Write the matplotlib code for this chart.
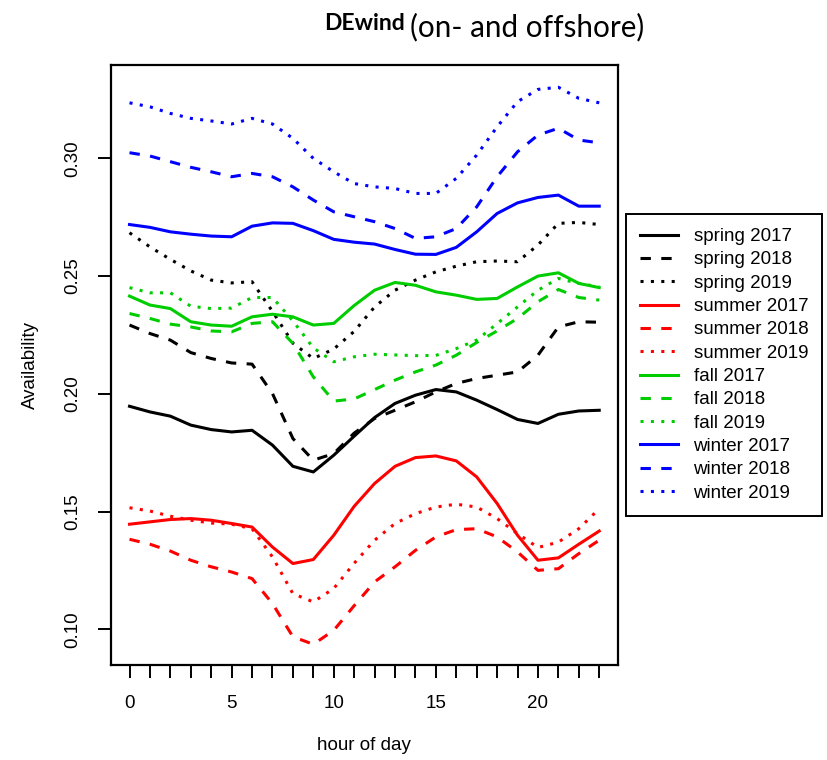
import numpy as np
import matplotlib
matplotlib.use("Agg")
import matplotlib.pyplot as plt

# hourly availability by season and year
hours = list(range(24))

spring_2017 = [0.1947, 0.1923, 0.1905, 0.1867, 0.1848, 0.1838, 0.1845, 0.1782, 0.1692, 0.1668, 0.1739, 0.1820,
               0.1899, 0.1959, 0.1994, 0.2018, 0.2008, 0.1973, 0.1933, 0.1891, 0.1874, 0.1913, 0.1927, 0.1930]
spring_2018 = [0.2292, 0.2256, 0.2228, 0.2175, 0.2150, 0.2131, 0.2126, 0.2001, 0.1810, 0.1718, 0.1746, 0.1833,
               0.1895, 0.1930, 0.1966, 0.2008, 0.2044, 0.2065, 0.2079, 0.2093, 0.2164, 0.2284, 0.2306, 0.2304]
spring_2019 = [0.2684, 0.2624, 0.2571, 0.2522, 0.2483, 0.2471, 0.2476, 0.2350, 0.2215, 0.2150, 0.2190, 0.2265,
               0.2369, 0.2440, 0.2483, 0.2518, 0.2542, 0.2561, 0.2564, 0.2561, 0.2632, 0.2724, 0.2728, 0.2719]

summer_2017 = [0.1446, 0.1456, 0.1466, 0.1470, 0.1463, 0.1449, 0.1434, 0.1349, 0.1279, 0.1296, 0.1399, 0.1522,
               0.1619, 0.1692, 0.1729, 0.1736, 0.1715, 0.1647, 0.1534, 0.1399, 0.1293, 0.1303, 0.1361, 0.1417]
summer_2018 = [0.1382, 0.1361, 0.1332, 0.1293, 0.1265, 0.1243, 0.1215, 0.1109, 0.0968, 0.0936, 0.0995, 0.1100,
               0.1201, 0.1265, 0.1335, 0.1392, 0.1423, 0.1427, 0.1392, 0.1328, 0.1250, 0.1257, 0.1321, 0.1378]
summer_2019 = [0.1516, 0.1502, 0.1480, 0.1463, 0.1451, 0.1446, 0.1427, 0.1307, 0.1151, 0.1116, 0.1173, 0.1280,
               0.1378, 0.1449, 0.1491, 0.1519, 0.1531, 0.1519, 0.1470, 0.1406, 0.1347, 0.1370, 0.1427, 0.1512]

fall_2017 = [0.2415, 0.2377, 0.2362, 0.2306, 0.2292, 0.2287, 0.2327, 0.2338, 0.2327, 0.2292, 0.2299, 0.2375,
             0.2440, 0.2473, 0.2461, 0.2433, 0.2419, 0.2401, 0.2405, 0.2454, 0.2500, 0.2514, 0.2469, 0.2451]
fall_2018 = [0.2341, 0.2320, 0.2296, 0.2284, 0.2267, 0.2263, 0.2299, 0.2306, 0.2214, 0.2072, 0.1969, 0.1978,
             0.2018, 0.2058, 0.2093, 0.2122, 0.2164, 0.2218, 0.2267, 0.2320, 0.2391, 0.2443, 0.2409, 0.2398]
fall_2019 = [0.2451, 0.2429, 0.2429, 0.2372, 0.2362, 0.2364, 0.2409, 0.2409, 0.2310, 0.2195, 0.2136, 0.2157,
             0.2168, 0.2165, 0.2162, 0.2163, 0.2192, 0.2228, 0.2298, 0.2369, 0.2440, 0.2490, 0.2469, 0.2454]

winter_2017 = [0.2719, 0.2707, 0.2688, 0.2678, 0.2670, 0.2667, 0.2712, 0.2726, 0.2724, 0.2693, 0.2656, 0.2644,
               0.2636, 0.2613, 0.2593, 0.2592, 0.2622, 0.2688, 0.2766, 0.2811, 0.2834, 0.2844, 0.2797, 0.2797]
winter_2018 = [0.3024, 0.3010, 0.2986, 0.2962, 0.2943, 0.2922, 0.2936, 0.2922, 0.2879, 0.2823, 0.2773, 0.2752,
               0.2731, 0.2702, 0.2660, 0.2667, 0.2702, 0.2794, 0.2922, 0.3028, 0.3099, 0.3128, 0.3078, 0.3066]
winter_2019 = [0.3236, 0.3219, 0.3191, 0.3170, 0.3159, 0.3146, 0.3170, 0.3146, 0.3085, 0.3000, 0.2943, 0.2893,
               0.2879, 0.2872, 0.2851, 0.2851, 0.2915, 0.3014, 0.3134, 0.3241, 0.3293, 0.3302, 0.3255, 0.3236]

series = [
    ("spring 2017", spring_2017), ("spring 2018", spring_2018), ("spring 2019", spring_2019),
    ("summer 2017", summer_2017), ("summer 2018", summer_2018), ("summer 2019", summer_2019),
    ("fall 2017", fall_2017), ("fall 2018", fall_2018), ("fall 2019", fall_2019),
    ("winter 2017", winter_2017), ("winter 2018", winter_2018), ("winter 2019", winter_2019),
]
season_cols = {"spring": "black", "summer": "#ff0000", "fall": "#00cd00", "winter": "#0000ff"}
year_ls = {"2017": "-", "2018": (0, (3.4, 3.4)), "2019": (0, (1, 2.4))}

plt.rcParams['font.family'] = ['Liberation Sans', 'DejaVu Sans']

fig = plt.figure(figsize=(8.27, 7.60), dpi=100)
ax = fig.add_axes([0.1339, 0.125, 0.6134, 0.7899])

for name, vals in series:
    season, year = name.split()
    ax.plot(hours, vals, color=season_cols[season], linestyle=year_ls[year], lw=2.2, label=name)

ax.set_xlim(-0.92, 23.92)
ax.set_ylim(0.0848, 0.3398)
ax.set_xticks(hours)
ax.set_xticklabels([str(h) if h % 5 == 0 else "" for h in hours])
ax.set_yticks([0.10, 0.15, 0.20, 0.25, 0.30])
ax.set_yticklabels(["0.10", "0.15", "0.20", "0.25", "0.30"])
ax.tick_params(direction='out', length=9.4, width=1.4, labelsize=13.5, pad=12)
for lab in ax.get_yticklabels():
    lab.set_rotation(90)
    lab.set_va('center')
for sp in ax.spines.values():
    sp.set_linewidth(1.6)

fig.text(30 / 827, 1 - 365 / 760, "Availability", rotation=90, ha='center', va='center', fontsize=13.5)
fig.text(364 / 827, 1 - 746 / 760, "hour of day", ha='center', va='center', fontsize=13.5)

# title: bold short name followed by the larger plain part
ttl_fam = ['Lato', 'DejaVu Sans']
fig.text(324 / 827, 1 - 30 / 760, "DEwind", fontweight='bold', fontsize=16.5, family=ttl_fam,
         ha='left', va='baseline')
fig.text(410 / 827, 1 - 36 / 760, "(on- and offshore)", fontsize=21.3, family=ttl_fam,
         ha='left', va='baseline')

leg = fig.legend(loc='upper left', bbox_to_anchor=(626 / 827, 1 - 214 / 760), fontsize=13.5,
                 frameon=True, fancybox=False, edgecolor='black', framealpha=1, borderaxespad=0,
                 handlelength=2.0, handletextpad=0.85, labelspacing=0.33, borderpad=0.75)
leg.get_frame().set_linewidth(1.4)

fig.savefig("out.png", dpi=100)
